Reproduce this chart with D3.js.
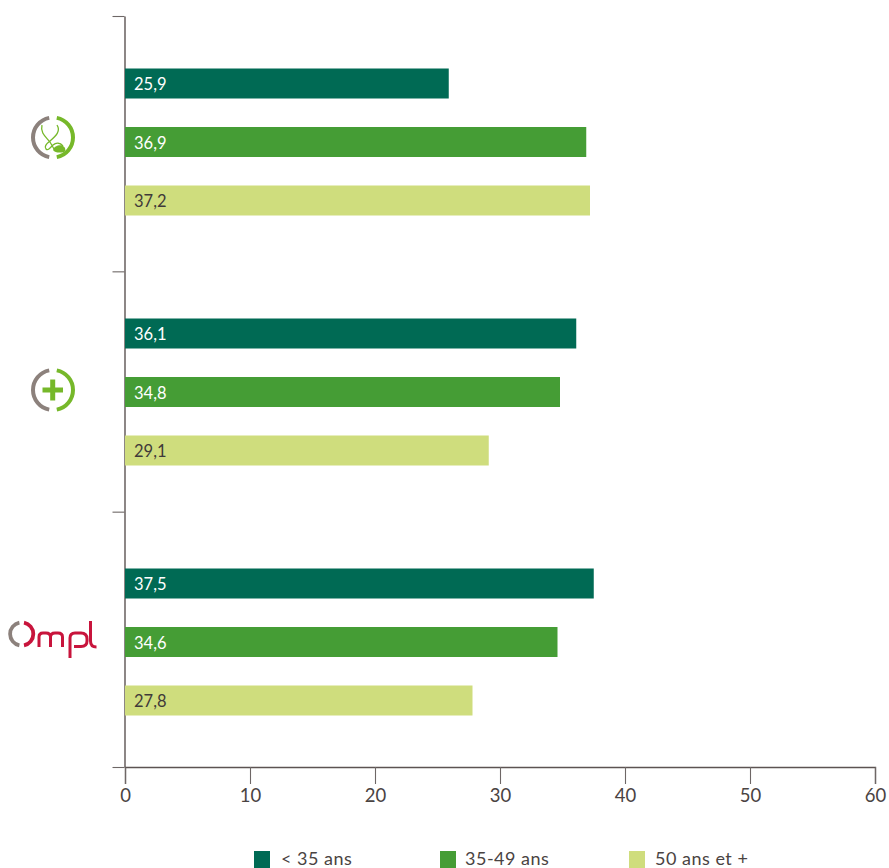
<!DOCTYPE html>
<html>
<head>
<meta charset="utf-8">
<script src="https://cdnjs.cloudflare.com/ajax/libs/d3/7.8.5/d3.min.js"></script>
<style>
  html, body { margin: 0; padding: 0; background: #fff; overflow: hidden; }
  svg { display: block; font-family: Lato, sans-serif; }
</style>
</head>
<body>
<script>
const groups = ['consultation', 'soins', 'ompl'];
const series = ['< 35 ans', '35-49 ans', '50 ans et +'];
const colors = ['#006a54', '#459d35', '#cfdd7d'];
const labelColors = ['#ffffff', '#ffffff', '#3f3a39'];

const under35 = [25.9, 36.1, 37.5];
const from35to49 = [36.9, 34.8, 34.6];
const over50 = [37.2, 29.1, 27.8];
const values = [under35, from35to49, over50];

const xTicks = [0, 10, 20, 30, 40, 50, 60];
const groupTicks = [0, 1.02, 1.98, 3]; // separators are slightly uneven in the original

const width = 889;
const height = 868;
const axisColor = '#5c5352';

const svg = d3.select('body')
  .append('svg')
  .attr('width', width)
  .attr('height', height);

const x = d3.scaleLinear().domain([0, 60]).range([125, 875]);
const y = d3.scaleBand().domain(groups).range([17, 767]);
const yInner = d3.scaleBand()
  .domain(series)
  .range([-73.5, 73.5])
  .paddingInner(28.5 / 58.5);
const ySep = d3.scaleLinear().domain([0, 3]).range([16, 767]);

// Axes
const xAxis = svg.append('g')
  .attr('transform', `translate(0,${ySep(3)})`)
  .call(d3.axisBottom(x).tickValues(xTicks).tickSize(17).tickPadding(5).tickFormat(d3.format('d')));
xAxis.selectAll('text').attr('font-size', 18.5).attr('fill', '#4a4342').attr('font-family', 'Lato, sans-serif');

const yAxis = svg.append('g')
  .attr('transform', `translate(${x(0) - 0.5},0)`)
  .call(d3.axisLeft(ySep).tickValues(groupTicks).tickSize(12).tickSizeOuter(0).tickFormat(''));

svg.selectAll('.domain').attr('stroke', axisColor).attr('stroke-width', 1.4);
svg.selectAll('.tick line').attr('stroke', '#6e6766').attr('stroke-width', 1.1);

// Bars
const rows = groups.flatMap((g, i) => series.map((s, j) => ({
  group: g, serie: s, idx: j, value: values[j][i]
})));

const bar = svg.selectAll('.bar')
  .data(rows)
  .enter().append('g')
  .attr('class', 'bar')
  .attr('transform', d => `translate(0,${y(d.group) + y.bandwidth() / 2 + yInner(d.serie)})`);

bar.append('rect')
  .attr('x', x(0))
  .attr('width', d => x(d.value) - x(0))
  .attr('height', yInner.bandwidth())
  .attr('fill', d => colors[d.idx]);

bar.append('text')
  .attr('x', x(0) + 9)
  .attr('y', yInner.bandwidth() / 2 + 6.5)
  .attr('font-size', 16.5)
  .attr('fill', d => labelColors[d.idx])
  .text(d => d.value.toFixed(1).replace('.', ','));

// Legend
const legendX = [254, 440, 629];
const legend = svg.selectAll('.legend')
  .data(series)
  .enter().append('g')
  .attr('class', 'legend')
  .attr('transform', (d, i) => `translate(${legendX[i]},851)`);
legend.append('rect')
  .attr('width', 16)
  .attr('height', 17)
  .attr('fill', (d, i) => colors[i]);
legend.append('text')
  .attr('x', (d, i) => [27, 25, 26][i])
  .attr('y', 13.5)
  .attr('font-size', 18)
  .attr('letter-spacing', 0.5)
  .attr('fill', '#4a4342')
  .text(d => d);

// Logos
const grey = '#8c817c';
const green = '#76b82a';
const red = '#c8143c';

function ring(cx, cy, rOuter, thick, gap, leftColor, rightColor) {
  const arc = d3.arc().innerRadius(rOuter - thick).outerRadius(rOuter);
  const g = svg.append('g').attr('transform', `translate(${cx},${cy})`);
  g.append('path')
    .attr('d', arc({ startAngle: -Math.PI + gap, endAngle: -gap }))
    .attr('fill', leftColor);
  g.append('path')
    .attr('d', arc({ startAngle: gap, endAngle: Math.PI - gap }))
    .attr('fill', rightColor);
}

// stethoscope
ring(53, 137.5, 22, 4, 0.19, grey, green);
svg.append('path')
  .attr('d', 'M42 125 C40 133 46 137 50 142 L54 149 M57 125 C61 131 56 136 50 141 C46 144 44 147 46 149 C48 151 50 148 53 145 C56 142.5 60 142.5 63 146')
  .attr('fill', 'none')
  .attr('stroke', green)
  .attr('stroke-width', 1.3);
svg.append('path')
  .attr('d', 'M53 150 C54 146 59 144.5 62 145.5 C66 147 66 151 64 152 C60 153 55 153 53 150 Z')
  .attr('fill', green);

// plus
ring(53, 390, 22, 4, 0.19, grey, green);
svg.append('path')
  .attr('d', 'M42.5 390 H63 M52.7 379.5 V400.5')
  .attr('stroke', green)
  .attr('stroke-width', 5)
  .attr('fill', 'none');

// Ompl
ring(21.7, 634, 13.5, 3.8, 0.2, grey, red);
svg.append('path')
  .attr('d', 'M39 647 V637 Q39 633 43 633 H46 Q50.5 633 50.5 637 V647 M50.5 637 Q50.5 633 55 633 H58 Q62.5 633 62.5 637 V647 M70 658 V638 Q70 633 75 633 H81 Q87 633 87 639 V641 Q87 646.5 81 646.5 H74 M90.5 621 V641 Q90.5 647 96.5 647')
  .attr('fill', 'none')
  .attr('stroke', red)
  .attr('stroke-width', 3);
</script>
</body>
</html>
